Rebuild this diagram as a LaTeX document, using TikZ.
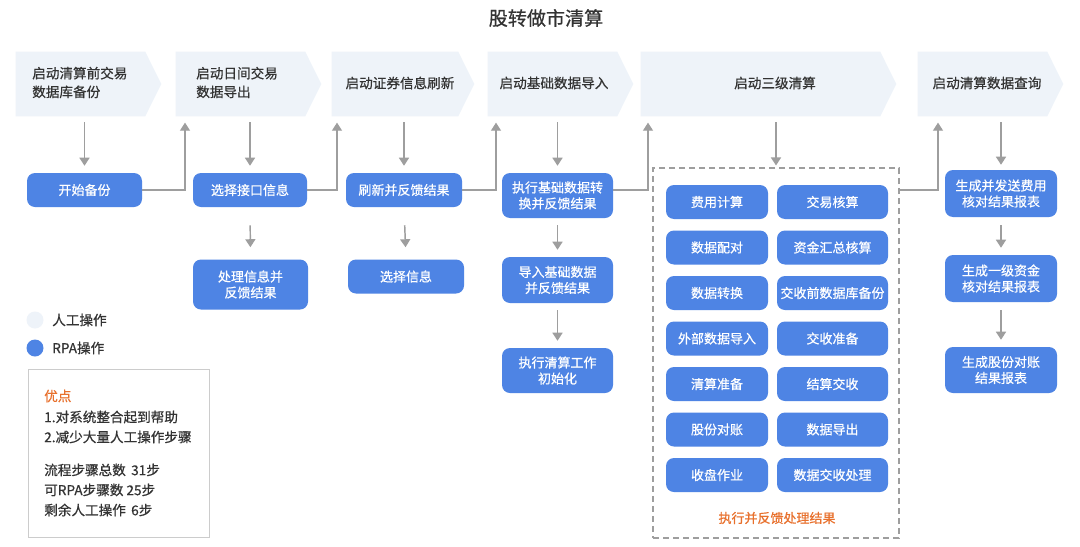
\documentclass[tikz,border=0pt]{standalone}
\usepackage{fontspec}
\newfontfamily\cjk{Noto Sans CJK SC}
\newfontfamily\cjkm[FakeBold=0.6]{Noto Sans CJK SC}
\usetikzlibrary{arrows.meta,backgrounds,calc}
\definecolor{rpablue}{RGB}{78,132,228}
\definecolor{hdrfill}{RGB}{238,243,249}
\definecolor{linegray}{RGB}{158,158,158}
\definecolor{txt}{RGB}{51,51,51}
\definecolor{orng}{RGB}{232,112,44}
\definecolor{boxline}{RGB}{204,204,204}
\begin{document}
\begin{tikzpicture}[x=0.75pt,y=-0.75pt,
  every node/.style={font=\cjk},
  hdr/.style={draw=none,inner sep=0pt,minimum height=48pt},
  hdrtxt/.style={inner sep=0pt,text=txt,align=left,font=\cjkm\fontsize{10.2pt}{14pt}\selectfont},
  rpa/.style 2 args={fill=rpablue,rounded corners=6pt,text=white,inner sep=0pt,align=center,
     minimum width=#1*0.75pt,minimum height=#2*0.75pt,font=\cjkm\fontsize{9.75pt}{12pt}\selectfont},
  varr/.style={draw=linegray,line width=1.1pt,-{Triangle[width=7.5pt,length=6pt]}},
  carr/.style={draw=linegray,line width=0.8pt,-{Triangle[width=7.5pt,length=6pt]}},
  legtxt/.style={inner sep=0pt,anchor=west,text=txt,font=\cjkm\fontsize{10.2pt}{13pt}\selectfont},
]
\useasboundingbox (0,0) rectangle (1080,546);

% title
\node[text=txt,font=\cjkm\fontsize{14.3pt}{17pt}\selectfont,inner sep=0pt] (title) at (546,18) {股转做市清算};

% header chevrons
\node[hdr,minimum width=129*0.75pt] (h1) at (80.5,84) {};
\node[hdr,minimum width=129*0.75pt] (h2) at (240.5,84) {};
\node[hdr,minimum width=126*0.75pt] (h3) at (395,84) {};
\node[hdr,minimum width=129*0.75pt] (h4) at (552.5,84) {};
\node[hdr,minimum width=239*0.75pt] (h5) at (760.5,84) {};
\node[hdr,minimum width=129*0.75pt] (h6) at (982.5,84) {};
\begin{scope}[on background layer]
\fill[white] (0,0) rectangle (1080,546);
\foreach \h in {h1,h2,h3,h4,h5,h6}
  \fill[hdrfill] (\h.north west) -- (\h.north east) -- ($(\h.east)+(16,0)$) -- (\h.south east) -- (\h.south west) -- cycle;
\end{scope}
\node[hdrtxt,anchor=west] (t1) at (32,82.5) {启动清算前交易\\数据库备份};
\node[hdrtxt,anchor=west] (t2) at (196,82.5) {启动日间交易\\数据导出};
\node[hdrtxt] (t3) at (400,83) {启动证券信息刷新};
\node[hdrtxt] (t4) at (554,83) {启动基础数据导入};
\node[hdrtxt] (t5) at (775,83) {启动三级清算};
\node[hdrtxt] (t6) at (987,83) {启动清算数据查询};

% RPA boxes
\node[rpa={115}{34}] (b1) at (84.5,190) {开始备份};
\node[rpa={114}{34}] (b2) at (250,190) {选择接口信息};
\node[rpa={115}{50}] (b2b) at (250.5,284.5) {处理信息并\\反馈结果};
\node[rpa={116}{34}] (b3) at (404,190) {刷新并反馈结果};
\node[rpa={116}{34}] (b3b) at (406,276.5) {选择信息};
\node[rpa={111}{45}] (b4) at (557.5,195.5) {执行基础数据转\\换并反馈结果};
\node[rpa={111}{46}] (b4b) at (557.5,280) {导入基础数据\\并反馈结果};
\node[rpa={111}{45}] (b4c) at (557.5,370.5) {执行清算工作\\初始化};
\node[rpa={112}{47}] (b6) at (1001,193.5) {生成并发送费用\\核对结果报表};
\node[rpa={112}{47}] (b6b) at (1001,278.5) {生成一级资金\\核对结果报表};
\node[rpa={112}{46}] (b6c) at (1001,370) {生成股份对账\\结果报表};

% group
\node[draw=linegray,line width=0.8pt,dash pattern=on 4.5pt off 3pt,inner sep=0pt,
      minimum width=246*0.75pt,minimum height=370*0.75pt] (grp) at (776,353) {};
\node[rpa={102}{34}] (g1) at (717,202) {费用计算};
\node[rpa={111}{34}] (g2) at (832.5,202) {交易核算};
\node[rpa={102}{34}] (g3) at (717,247.5) {数据配对};
\node[rpa={111}{34}] (g4) at (832.5,247.5) {资金汇总核算};
\node[rpa={102}{34}] (g5) at (717,293) {数据转换};
\node[rpa={111}{34}] (g6) at (832.5,293) {交收前数据库备份};
\node[rpa={102}{34}] (g7) at (717,338.5) {外部数据导入};
\node[rpa={111}{34}] (g8) at (832.5,338.5) {交收准备};
\node[rpa={102}{34}] (g9) at (717,384) {清算准备};
\node[rpa={111}{34}] (g10) at (832.5,384) {结算交收};
\node[rpa={102}{34}] (g11) at (717,429.5) {股份对账};
\node[rpa={111}{34}] (g12) at (832.5,429.5) {数据导出};
\node[rpa={102}{34}] (g13) at (717,475) {收盘作业};
\node[rpa={111}{34}] (g14) at (832.5,475) {数据交收处理};
\node[inner sep=0pt,text=orng,font=\cjkm\fontsize{9.75pt}{12pt}\selectfont] (gcap) at (777,518) {执行并反馈处理结果};

% header down arrows
\draw[varr,shorten <=4.5pt,shorten >=5.25pt] (h1.south -| b1.north) -- (b1.north);
\draw[varr,shorten <=4.5pt,shorten >=5.25pt] (h2.south -| b2.north) -- (b2.north);
\draw[varr,shorten <=4.5pt,shorten >=5.25pt] (h3.south -| b3.north) -- (b3.north);
\draw[varr,shorten <=4.5pt,shorten >=5.25pt] (h4.south -| b4.north) -- (b4.north);
\draw[varr,shorten <=4.5pt,shorten >=1.5pt] (h5.south -| grp.north) -- (grp.north);
\draw[varr,shorten <=4.5pt,shorten >=3.75pt] (h6.south -| b6.north) -- (b6.north);

% column down arrows
\draw[varr,shorten <=13.5pt,shorten >=9pt] (b2.south) -- (b2b.north);
\draw[varr,shorten <=13.5pt,shorten >=9pt] (b3.south |- b2.south) -- (b3b.north);
\draw[varr,shorten <=5.25pt,shorten >=5.25pt] (b4.south) -- (b4b.north);
\draw[varr,shorten <=5.25pt,shorten >=5.25pt] (b4b.south) -- (b4c.north);
\draw[varr,shorten <=6pt,shorten >=5.25pt] (b6.south) -- (b6b.north);
\draw[varr,shorten <=6pt,shorten >=5.25pt] (b6b.south) -- (b6c.north);

% connectors up to next header
\coordinate (u2) at (185,116);
\coordinate (u3) at (337,116);
\coordinate (u4) at (496,116);
\coordinate (u5) at (648,116);
\coordinate (u6) at (938,116);
\draw[carr,shorten >=5pt] (b1.east) -| (u2);
\draw[carr,shorten >=5pt] (b2.east) -| (u3);
\draw[carr,shorten >=5pt] (b3.east) -| (u4);
\draw[carr,shorten >=5pt] (b4.east |- b3.east) -| (u5);
\draw[carr,shorten >=5pt] (grp.east |- b3.east) -| (u6);

% legend
\node[circle,fill=hdrfill,inner sep=0pt,minimum size=12.75pt] (lc1) at (35,320) {};
\node[legtxt] (l1) at (52,320) {人工操作};
\node[circle,fill=rpablue,inner sep=0pt,minimum size=12.75pt] (lc2) at (35,348) {};
\node[legtxt] (l2) at (52,348) {RPA操作};

\node[draw=boxline,line width=0.75pt,inner sep=0pt,minimum width=181*0.75pt,minimum height=168*0.75pt] (adv) at (118.5,453) {};
\node[legtxt,text=orng] (a0) at (44,396) {优点};
\node[legtxt] (a1) at (44,417) {1.对系统整合起到帮助};
\node[legtxt] (a2) at (44,437) {2.减少大量人工操作步骤};
\node[legtxt] (a3) at (44,470) {流程步骤总数\hspace{4pt}31步};
\node[legtxt] (a4) at (44,490) {可RPA步骤数 25步};
\node[legtxt] (a5) at (44,510) {剩余人工操作\hspace{4pt}6步};
\end{tikzpicture}
\end{document}
